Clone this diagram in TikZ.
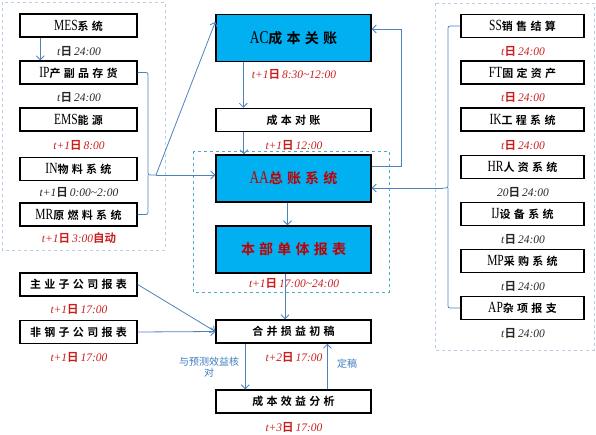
\documentclass[tikz,border=0pt]{standalone}
\usepackage{fontspec}
\setmainfont{Liberation Serif}
\newfontfamily\latn[FakeStretch=0.74]{Liberation Serif}
\newfontfamily\cjk[LetterSpace=30,BoldFont={* Bold}]{Noto Sans CJK SC}
\newfontfamily\cjkn[BoldFont={* Bold}]{Noto Sans CJK SC}
\usetikzlibrary{arrows.meta}
\definecolor{cyanf}{HTML}{00B0F0}
\definecolor{labred}{HTML}{C81E1E}
\definecolor{boxred}{HTML}{C00000}
\definecolor{arrowc}{HTML}{4F81BD}
\definecolor{bluet}{HTML}{3F7CC0}
\definecolor{outerd}{HTML}{B9CDE5}
\definecolor{innerd}{HTML}{4BACC6}
\newcommand\zb[1]{{\cjk\bfseries #1}}
\newcommand\la[1]{{\fontsize{15.5}{17}\latn #1}}
\newcommand\lb[1]{{\fontsize{18}{20}\latn #1}}
\newcommand\tday[2]{\textit{#1}{\cjkn\bfseries 日}\,\textit{#2}}
\tikzset{
  box/.style={draw=black, line width=1.4pt, fill=white, inner sep=0pt, minimum height=23pt, font=\fontsize{11}{13}\selectfont},
  lbox/.style={box, minimum width=117pt},
  rbox/.style={box, minimum width=123pt},
  mbox/.style={box, minimum width=155pt},
  bigbox/.style={box, minimum width=155pt, minimum height=47pt, fill=cyanf, font=\fontsize{14}{16}\selectfont},
  lab/.style={font=\fontsize{11.5}{13}\selectfont, inner sep=0pt, text=black!85},
  redlab/.style={lab, text=labred},
  arr/.style={draw=arrowc, line width=0.8pt, -{Straight Barb[length=4pt,width=8pt]}},
  ln/.style={draw=arrowc, line width=0.8pt},
  outgrp/.style={draw=outerd, dashed, line width=0.8pt},
  ingrp/.style={draw=innerd, dashed, line width=1pt},
  bluelab/.style={font=\fontsize{10}{11}\cjkn, text=bluet, inner sep=0pt, align=center}
}
\begin{document}
\begin{tikzpicture}[x=1pt,y=-1pt]
\useasboundingbox (0,0) rectangle (596,434);
% groups
\draw[outgrp] (2,2) rectangle (165,250);
\draw[outgrp] (435,3) rectangle (594,350);
\draw[ingrp] (193,151) rectangle (389,292);
% left boxes
\node[lbox] (MES) at (78.5,25.5) {\la{MES}\zb{系统}};
\node[lbox] (IP) at (78.5,72.5) {\la{IP}\zb{产副品存货}};
\node[lbox] (EMS) at (78.5,119.5) {\la{EMS}\zb{能源}};
\node[lbox] (IN) at (78.5,169) {\la{IN}\zb{物料系统}};
\node[lbox] (MR) at (78.5,214.5) {\la{MR}\zb{原燃料系统}};
\node[lab] (lMES) at (79,51) {\tday{t}{24:00}};
\node[lab] (lIP) at (79,97) {\tday{t}{24:00}};
\node[redlab] (lEMS) at (79,145) {\tday{t+1}{8:00}};
\node[lab] (lIN) at (79,192) {\tday{t+1}{0:00\textasciitilde 2:00}};
\node[redlab] (lMR) at (79,238) {\tday{t+1}{3:00}{\cjkn\bfseries 自动}};
% bottom left
\node[lbox] (ZY) at (78.5,284.5) {\zb{主业子公司报表}};
\node[lbox] (FG) at (78.5,332) {\zb{非钢子公司报表}};
\node[redlab] (lZY) at (79,309) {\tday{t+1}{17:00}};
\node[redlab] (lFG) at (79,357) {\tday{t+1}{17:00}};
% main column
\node[bigbox] (AC) at (293.5,38) {\lb{AC}\zb{成本关账}};
\node[mbox] (DZ) at (293.5,120) {\zb{成本对账}};
\node[bigbox, text=boxred] (AA) at (293.5,178.5) {\lb{AA}\zb{总账系统}};
\node[bigbox, text=boxred] (BB) at (293.5,249.5) {\zb{本部单体报表}};
\node[mbox] (HB) at (293.5,331.5) {\zb{合并损益初稿}};
\node[mbox] (CB) at (293.5,401.5) {\zb{成本效益分析}};
\node[redlab] (lAC) at (294,74) {\tday{t+1}{8:30\textasciitilde 12:00}};
\node[redlab] (lDZ) at (294,145) {\tday{t+1}{12:00}};
\node[redlab] (lBB) at (294,283) {\tday{t+1}{17:00\textasciitilde 24:00}};
\node[redlab] (lHB) at (294,357) {\tday{t+2}{17:00}};
\node[redlab] (lCB) at (294,427) {\tday{t+3}{17:00}};
% right boxes
\node[rbox] (SS) at (522.5,26) {\la{SS}\zb{销售结算}};
\node[rbox] (FT) at (522.5,72.5) {\la{FT}\zb{固定资产}};
\node[rbox] (IK) at (522.5,119.5) {\la{IK}\zb{工程系统}};
\node[rbox] (HR) at (522.5,167) {\la{HR}\zb{人资系统}};
\node[rbox] (IJ) at (522.5,214) {\la{IJ}\zb{设备系统}};
\node[rbox] (MP) at (522.5,261) {\la{MP}\zb{采购系统}};
\node[rbox] (AP) at (522.5,308) {\la{AP}\zb{杂项报支}};
\node[redlab] (lSS) at (523,51) {\tday{t}{24:00}};
\node[redlab] (lFT) at (523,97) {\tday{t}{24:00}};
\node[redlab] (lIK) at (523,145) {\tday{t}{24:00}};
\node[lab] (lHR) at (523,192) {\tday{20}{24:00}};
\node[lab] (lIJ) at (523,239) {\tday{t}{24:00}};
\node[lab] (lMP) at (523,286) {\tday{t}{24:00}};
\node[lab] (lAP) at (523,333) {\tday{t}{24:00}};
% connectors
\draw[arr] ([xshift=21pt]MES.south west) -- ([xshift=21pt]IP.north west);
\coordinate (Ltip) at (156,175);
\draw[ln, rounded corners=2pt] (IP.east) -- (148,72.5) -- (148,175) -- (Ltip);
\draw[ln, rounded corners=2pt] (MR.east) -- (148,214.5) -- (148,175);
\draw[arr] (Ltip) -- (AA.west |- Ltip);
\draw[arr] (Ltip) -- ([yshift=16pt]AC.west);
\draw[arr] ([xshift=28pt]AC.south west) -- ([xshift=28pt]DZ.north west);
\draw[arr] ([xshift=28.5pt]DZ.south west) -- ([xshift=28.5pt]AA.north west);
\draw[arr] ([xshift=-6pt]AA.south) -- ([xshift=-6pt]BB.north);
\draw[arr] ([xshift=-8.5pt]BB.south) -- ([xshift=-8.5pt]HB.north);
\draw[arr] ([yshift=12.5pt]AA.east) -- ++(30pt,0) |- ([yshift=9pt]AC.east);
\coordinate (Rtip) at (443,188);
\draw[ln, rounded corners=2pt] (SS.west) -- (448,26) -- (448,188) -- (Rtip);
\draw[ln, rounded corners=2pt] (AP.west) -- (448,308) -- (448,188);
\draw[arr] (Rtip) -- (AA.east |- Rtip);
\draw[arr] (ZY.east) -- (HB.west);
\draw[arr] (FG.east) -- (HB.west);
\draw[arr] ([xshift=30pt]HB.south west) -- ([xshift=30pt]CB.north west);
\draw[arr] ([xshift=112pt]CB.north west) -- ([xshift=112pt]HB.south west);
\node[bluelab] (t1) at (209,367) {与预测效益核\\对};
\node[bluelab] (t2) at (347,364) {定稿};
\end{tikzpicture}
\end{document}
